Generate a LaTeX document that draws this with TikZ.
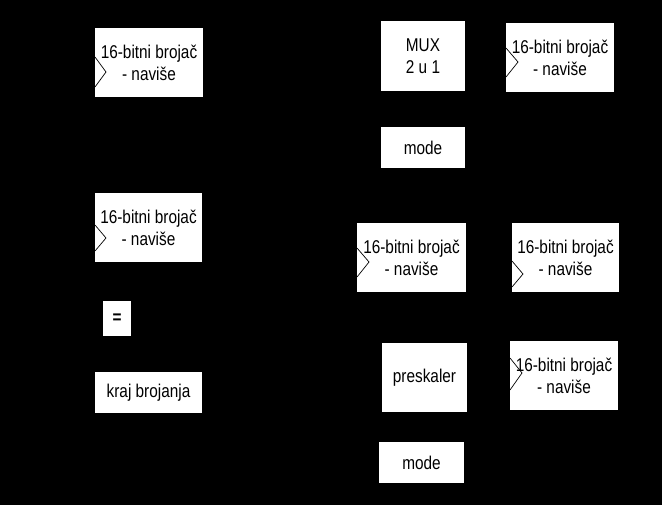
\documentclass[tikz,border=0pt]{standalone}
\usepackage{fontspec}
\setmainfont[FakeStretch=0.83]{Liberation Sans}
\begin{document}
\begin{tikzpicture}[x=1bp,y=-1bp,
  blk/.style={fill=white,draw=none,inner sep=0pt,align=center,text=black,
    font=\fontsize{18.5bp}{22bp}\selectfont},
  clk/.style={draw=black,line width=0.7bp}]
\fill[black] (0,0) rectangle (662,505);
\useasboundingbox (0,0) rectangle (662,505);
\node[blk,minimum width=108bp,minimum height=69bp] (c1) at (149,62.5) {16-bitni brojač\\- naviše};
\node[blk,minimum width=107bp,minimum height=69bp] (c2) at (148.5,227.5) {16-bitni brojač\\- naviše};
\node[blk,minimum width=28bp,minimum height=35bp] (eq) at (117,318.5) {\bfseries =};
\node[blk,minimum width=107bp,minimum height=41bp] (kraj) at (148.5,392.5) {kraj brojanja};
\node[blk,minimum width=84bp,minimum height=70bp] (mux) at (423,56) {MUX\\2 u 1};
\node[blk,minimum width=108bp,minimum height=69bp] (c3) at (560,57.5) {16-bitni brojač\\- naviše};
\node[blk,minimum width=84bp,minimum height=41bp] (mode1) at (423,147.5) {mode};
\node[blk,minimum width=109bp,minimum height=69bp] (c4) at (411.5,257.5) {16-bitni brojač\\- naviše};
\node[blk,minimum width=107bp,minimum height=69bp] (c5) at (565.5,257.5) {16-bitni brojač\\- naviše};
\node[blk,minimum width=85bp,minimum height=69bp] (pres) at (424.5,377.5) {preskaler};
\node[blk,minimum width=108bp,minimum height=69bp] (c6) at (564,375.5) {16-bitni brojač\\- naviše};
\node[blk,minimum width=85bp,minimum height=41bp] (mode2) at (421.5,462.5) {mode};
\draw[clk] (95,57) -- (106,72) -- (95,87);
\draw[clk] (95,225) -- (106,238) -- (95,251);
\draw[clk] (506,48) -- (518,62) -- (506,77);
\draw[clk] (357,248) -- (369,262) -- (357,277);
\draw[clk] (512,261) -- (523,274) -- (512,287);
\draw[clk] (510,358) -- (522,373) -- (510,390);
\end{tikzpicture}
\end{document}
